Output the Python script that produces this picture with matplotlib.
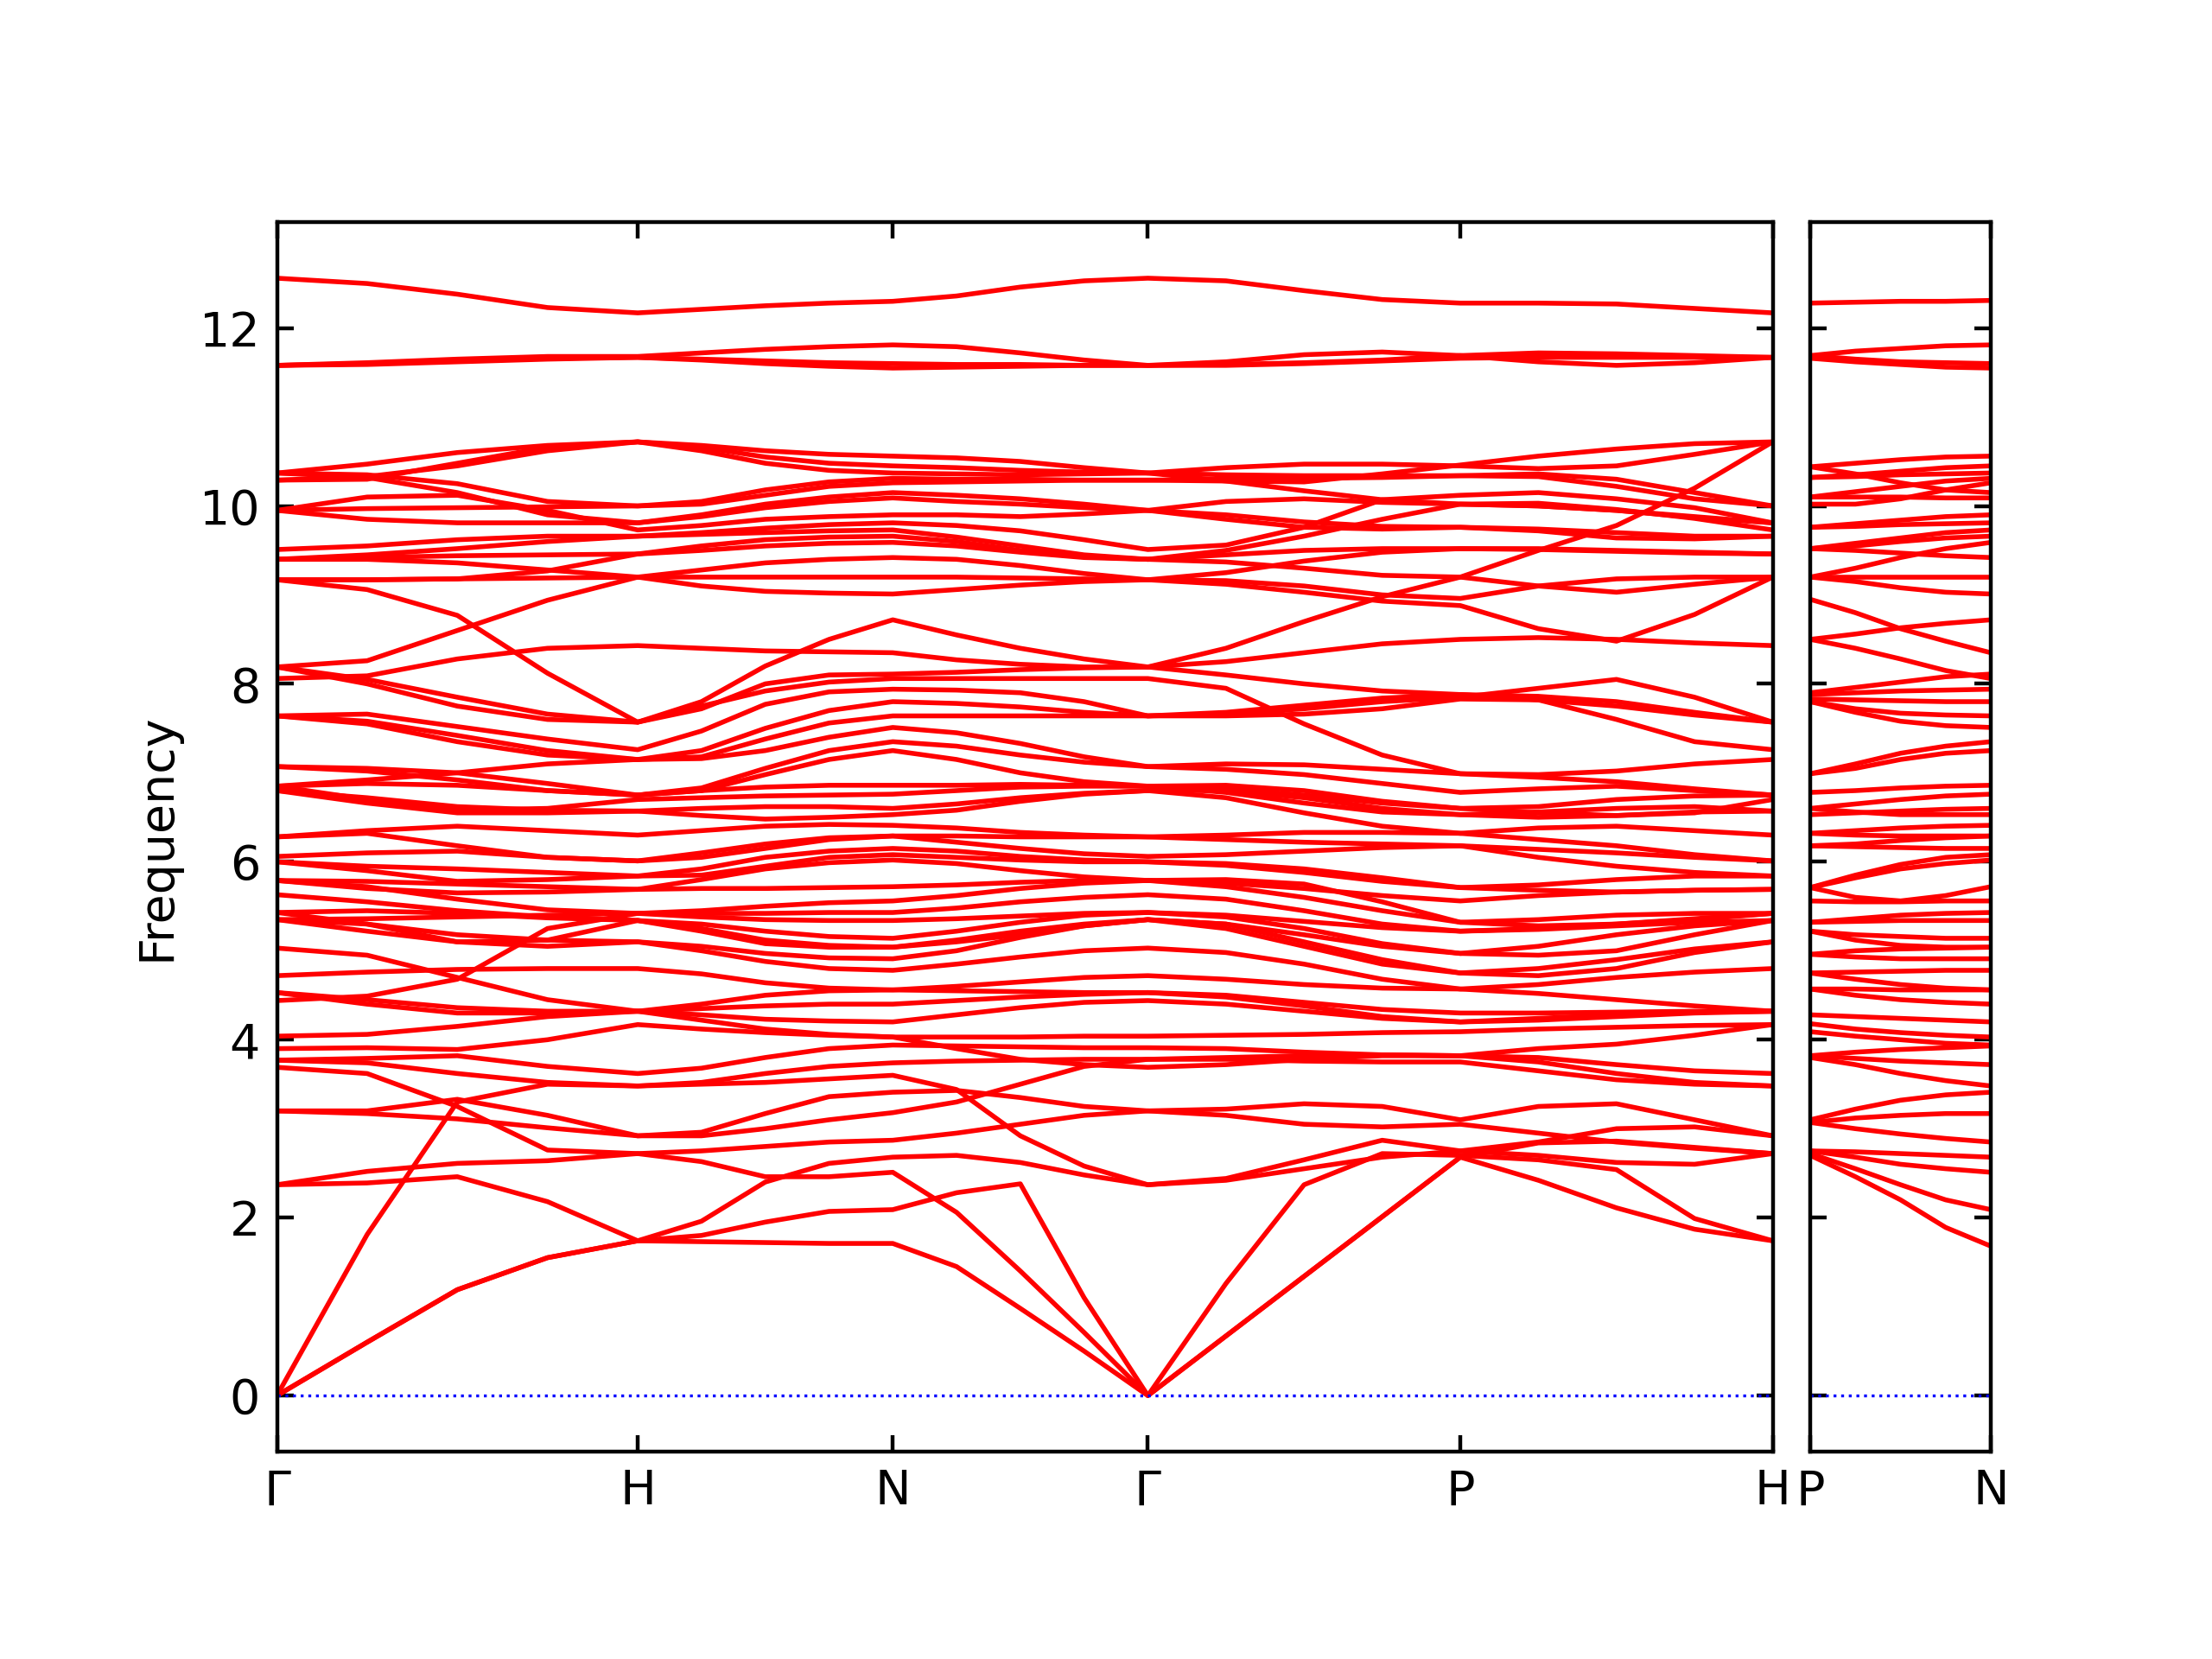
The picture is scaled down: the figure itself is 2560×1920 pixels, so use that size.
import numpy as np
import matplotlib
matplotlib.use("Agg")
import matplotlib.pyplot as plt

# path G-H-N-G-P-H | P-N  (segment lengths in 2pi/a units, bcc)
seg_len = [1.0, 0.7071, 0.7071, 0.8660, 0.8660]
pn_len = 0.5
main_labels = ["Γ", "H", "N", "Γ", "P", "H"]
pn_labels = ["P", "N"]
yticks = [0, 2, 4, 6, 8, 10, 12]

# each band: 5 samples per segment, shared end points
# G . . . H . . . N . . . G . . . P . . . H
top_bands = [
    [12.56, 12.50, 12.38, 12.23, 12.17, 12.21, 12.25, 12.28, 12.30, 12.36, 12.46, 12.53, 12.56, 12.53, 12.42, 12.32, 12.28, 12.28, 12.27, 12.22, 12.17],
    [11.58, 11.61, 11.65, 11.68, 11.68, 11.72, 11.76, 11.79, 11.81, 11.79, 11.72, 11.64, 11.58, 11.62, 11.70, 11.73, 11.69, 11.62, 11.58, 11.61, 11.67],
    [11.58, 11.60, 11.63, 11.66, 11.67, 11.64, 11.60, 11.57, 11.55, 11.56, 11.57, 11.58, 11.58, 11.59, 11.61, 11.64, 11.69, 11.72, 11.71, 11.69, 11.67],
    [11.58, 11.59, 11.62, 11.65, 11.67, 11.65, 11.63, 11.61, 11.60, 11.59, 11.59, 11.58, 11.58, 11.58, 11.60, 11.63, 11.66, 11.67, 11.67, 11.67, 11.67],
]

upper_bands = [
    [10.37, 10.47, 10.60, 10.68, 10.72, 10.68, 10.62, 10.58, 10.56, 10.54, 10.50, 10.43, 10.37, 10.43, 10.47, 10.47, 10.45, 10.42, 10.45, 10.58, 10.72],
    [10.29, 10.30, 10.48, 10.66, 10.72, 10.66, 10.55, 10.48, 10.45, 10.43, 10.40, 10.38, 10.37, 10.35, 10.34, 10.34, 10.34, 10.33, 10.22, 10.08, 10.00],
    [10.37, 10.32, 10.15, 9.90, 9.81, 9.90, 10.02, 10.10, 10.15, 10.12, 10.08, 10.02, 9.95, 10.05, 10.08, 10.04, 10.02, 10.00, 9.95, 9.87, 9.81],
    [10.29, 10.33, 10.45, 10.62, 10.72, 10.62, 10.48, 10.40, 10.37, 10.36, 10.35, 10.36, 10.37, 10.28, 10.17, 10.07, 10.02, 10.00, 9.95, 9.88, 9.81],
    [10.37, 10.35, 10.25, 10.05, 10.00, 10.05, 10.18, 10.27, 10.31, 10.30, 10.30, 10.29, 10.29, 10.28, 10.27, 10.36, 10.46, 10.56, 10.64, 10.70, 10.72],
    [9.95, 10.10, 10.12, 9.95, 9.73, 9.78, 9.85, 9.88, 9.90, 9.90, 9.88, 9.91, 9.95, 9.85, 9.76, 9.74, 9.76, 9.72, 9.64, 9.63, 9.66],
    [9.95, 9.97, 9.98, 9.99, 10.00, 10.02, 10.12, 10.22, 10.26, 10.27, 10.28, 10.29, 10.29, 10.30, 10.31, 10.32, 10.34, 10.36, 10.30, 10.15, 10.00],
    [9.95, 9.85, 9.81, 9.81, 9.81, 9.88, 9.98, 10.05, 10.09, 10.05, 10.02, 9.98, 9.95, 9.90, 9.82, 9.77, 9.76, 9.74, 9.70, 9.66, 9.66],
    [9.51, 9.55, 9.62, 9.66, 9.66, 9.70, 9.75, 9.79, 9.81, 9.78, 9.72, 9.62, 9.51, 9.56, 9.76, 10.07, 10.12, 10.15, 10.08, 9.98, 9.81],
    [9.40, 9.45, 9.52, 9.60, 9.66, 9.68, 9.70, 9.72, 9.73, 9.65, 9.55, 9.45, 9.40, 9.50, 9.66, 9.85, 10.02, 10.03, 9.96, 9.86, 9.73],
    [9.40, 9.40, 9.36, 9.28, 9.20, 9.28, 9.36, 9.40, 9.42, 9.40, 9.33, 9.24, 9.17, 9.25, 9.38, 9.48, 9.52, 9.52, 9.50, 9.48, 9.46],
    [9.40, 9.42, 9.44, 9.45, 9.46, 9.55, 9.62, 9.65, 9.66, 9.60, 9.50, 9.43, 9.40, 9.45, 9.50, 9.52, 9.52, 9.51, 9.49, 9.47, 9.46],
    [9.17, 9.17, 9.18, 9.27, 9.46, 9.50, 9.55, 9.58, 9.59, 9.55, 9.48, 9.42, 9.40, 9.37, 9.30, 9.22, 9.20, 9.10, 9.03, 9.12, 9.20],
    [9.17, 9.06, 8.77, 8.12, 7.57, 7.80, 8.20, 8.50, 8.72, 8.55, 8.40, 8.28, 8.19, 8.40, 8.70, 8.98, 9.20, 9.50, 9.78, 10.20, 10.72],
    [9.17, 9.17, 9.18, 9.19, 9.20, 9.20, 9.20, 9.20, 9.20, 9.20, 9.19, 9.18, 9.17, 9.16, 9.10, 9.00, 8.96, 9.10, 9.18, 9.20, 9.20],
    [8.19, 8.26, 8.60, 8.94, 9.20, 9.10, 9.04, 9.02, 9.01, 9.06, 9.11, 9.15, 9.17, 9.12, 9.03, 8.93, 8.88, 8.62, 8.48, 8.78, 9.20],
    [8.06, 8.09, 8.28, 8.40, 8.43, 8.40, 8.37, 8.36, 8.35, 8.27, 8.22, 8.19, 8.19, 8.25, 8.35, 8.45, 8.50, 8.52, 8.50, 8.46, 8.43],
    [8.19, 8.05, 7.85, 7.66, 7.57, 7.72, 8.00, 8.10, 8.11, 8.13, 8.16, 8.18, 8.19, 8.10, 8.00, 7.92, 7.88, 7.82, 7.75, 7.65, 7.57],
    [8.19, 8.00, 7.75, 7.60, 7.57, 7.75, 7.92, 8.02, 8.06, 8.06, 8.06, 8.06, 8.06, 7.95, 7.55, 7.20, 6.99, 6.98, 7.02, 7.10, 7.15],
]

middle_bands = [
    [7.64, 7.66, 7.52, 7.38, 7.26, 7.47, 7.77, 7.91, 7.94, 7.93, 7.90, 7.80, 7.64, 7.68, 7.76, 7.84, 7.88, 7.86, 7.80, 7.68, 7.57],
    [7.64, 7.58, 7.42, 7.25, 7.15, 7.25, 7.50, 7.70, 7.80, 7.78, 7.74, 7.68, 7.64, 7.64, 7.66, 7.72, 7.83, 7.82, 7.60, 7.35, 7.26],
    [7.64, 7.55, 7.35, 7.20, 7.15, 7.18, 7.38, 7.56, 7.64, 7.64, 7.64, 7.64, 7.64, 7.66, 7.72, 7.80, 7.85, 7.95, 8.05, 7.85, 7.57],
    [7.07, 7.05, 7.00, 6.88, 6.75, 6.83, 7.05, 7.25, 7.35, 7.30, 7.20, 7.12, 7.07, 7.10, 7.09, 7.04, 6.99, 6.95, 6.90, 6.82, 6.75],
    [7.07, 7.02, 6.92, 6.80, 6.75, 6.80, 6.98, 7.15, 7.25, 7.15, 7.00, 6.90, 6.85, 6.82, 6.75, 6.66, 6.60, 6.62, 6.70, 6.74, 6.75],
    [6.85, 6.92, 7.00, 7.10, 7.15, 7.16, 7.25, 7.40, 7.51, 7.45, 7.33, 7.18, 7.07, 7.04, 6.98, 6.88, 6.78, 6.82, 6.85, 6.80, 6.75],
    [6.85, 6.88, 6.86, 6.80, 6.75, 6.80, 6.84, 6.86, 6.86, 6.86, 6.87, 6.86, 6.85, 6.86, 6.80, 6.68, 6.60, 6.55, 6.52, 6.55, 6.70],
    [6.85, 6.70, 6.58, 6.60, 6.70, 6.72, 6.74, 6.75, 6.76, 6.80, 6.84, 6.85, 6.85, 6.78, 6.66, 6.56, 6.53, 6.56, 6.60, 6.62, 6.57],
    [6.80, 6.72, 6.62, 6.58, 6.57, 6.60, 6.62, 6.62, 6.60, 6.65, 6.72, 6.77, 6.80, 6.80, 6.72, 6.60, 6.53, 6.50, 6.52, 6.56, 6.57],
    [6.80, 6.66, 6.55, 6.55, 6.57, 6.52, 6.48, 6.50, 6.53, 6.58, 6.68, 6.76, 6.80, 6.72, 6.55, 6.40, 6.32, 6.38, 6.40, 6.35, 6.30],
    [6.28, 6.35, 6.40, 6.35, 6.30, 6.35, 6.40, 6.42, 6.41, 6.38, 6.33, 6.30, 6.28, 6.30, 6.33, 6.33, 6.32, 6.25, 6.18, 6.08, 6.01],
    [6.28, 6.32, 6.18, 6.05, 6.01, 6.10, 6.20, 6.27, 6.29, 6.29, 6.28, 6.28, 6.28, 6.25, 6.22, 6.20, 6.18, 6.14, 6.10, 6.05, 6.01],
    [6.06, 6.10, 6.12, 6.05, 6.01, 6.05, 6.15, 6.25, 6.29, 6.22, 6.15, 6.09, 6.06, 6.08, 6.12, 6.16, 6.18, 6.05, 5.95, 5.88, 5.84],
    [6.00, 5.95, 5.92, 5.88, 5.84, 5.92, 6.05, 6.12, 6.15, 6.12, 6.06, 6.02, 6.00, 5.96, 5.88, 5.78, 5.71, 5.74, 5.80, 5.84, 5.84],
    [6.00, 5.90, 5.78, 5.80, 5.84, 5.85, 5.95, 6.05, 6.08, 6.05, 6.02, 6.00, 6.00, 5.98, 5.92, 5.82, 5.71, 5.68, 5.66, 5.68, 5.69],
    [5.79, 5.78, 5.75, 5.72, 5.69, 5.80, 5.92, 5.99, 6.02, 5.98, 5.90, 5.83, 5.79, 5.76, 5.70, 5.62, 5.56, 5.62, 5.66, 5.68, 5.69],
    [5.79, 5.70, 5.65, 5.66, 5.69, 5.70, 5.70, 5.71, 5.72, 5.74, 5.77, 5.79, 5.79, 5.72, 5.60, 5.45, 5.32, 5.35, 5.40, 5.42, 5.42],
    [5.79, 5.72, 5.58, 5.46, 5.42, 5.45, 5.50, 5.54, 5.56, 5.62, 5.70, 5.76, 5.79, 5.80, 5.75, 5.55, 5.32, 5.28, 5.30, 5.36, 5.42],
    [5.63, 5.55, 5.45, 5.38, 5.34, 5.30, 5.22, 5.16, 5.14, 5.22, 5.32, 5.40, 5.43, 5.38, 5.25, 5.08, 4.97, 5.05, 5.18, 5.28, 5.34],
    [5.43, 5.45, 5.42, 5.37, 5.34, 5.25, 5.12, 5.06, 5.04, 5.12, 5.22, 5.30, 5.35, 5.30, 5.18, 5.05, 4.97, 4.95, 5.00, 5.18, 5.34],
    [5.43, 5.30, 5.10, 5.12, 5.34, 5.22, 5.08, 5.04, 5.04, 5.10, 5.18, 5.28, 5.35, 5.25, 5.05, 4.85, 4.75, 4.80, 4.90, 5.02, 5.10],
    [5.35, 5.30, 5.18, 5.12, 5.10, 5.05, 4.97, 4.92, 4.91, 5.00, 5.15, 5.28, 5.35, 5.30, 5.10, 4.90, 4.75, 4.72, 4.80, 4.98, 5.10],
    [5.35, 5.22, 5.10, 5.05, 5.10, 5.00, 4.88, 4.80, 4.78, 4.85, 4.93, 5.00, 5.03, 4.98, 4.85, 4.68, 4.57, 4.62, 4.70, 4.76, 4.80],
    [5.35, 5.36, 5.38, 5.40, 5.42, 5.42, 5.42, 5.43, 5.43, 5.48, 5.55, 5.60, 5.63, 5.58, 5.45, 5.30, 5.22, 5.25, 5.30, 5.35, 5.42],
    [5.03, 4.95, 4.70, 4.45, 4.32, 4.40, 4.50, 4.55, 4.56, 4.55, 4.54, 4.53, 4.53, 4.50, 4.42, 4.34, 4.30, 4.30, 4.31, 4.32, 4.32],
    [4.72, 4.76, 4.79, 4.80, 4.80, 4.74, 4.64, 4.58, 4.56, 4.60, 4.65, 4.70, 4.72, 4.68, 4.62, 4.58, 4.57, 4.52, 4.45, 4.38, 4.32],
    [4.53, 4.45, 4.36, 4.32, 4.32, 4.35, 4.38, 4.40, 4.40, 4.44, 4.48, 4.51, 4.53, 4.48, 4.38, 4.26, 4.20, 4.24, 4.28, 4.31, 4.32],
    [4.53, 4.40, 4.30, 4.30, 4.32, 4.28, 4.23, 4.21, 4.20, 4.28, 4.36, 4.42, 4.44, 4.40, 4.32, 4.24, 4.20, 4.22, 4.26, 4.30, 4.32],
    [4.44, 4.49, 4.68, 5.25, 5.42, 5.38, 5.35, 5.34, 5.34, 5.36, 5.39, 5.42, 5.43, 5.40, 5.33, 5.26, 5.22, 5.24, 5.28, 5.32, 5.34],
    [4.04, 4.06, 4.15, 4.26, 4.32, 4.22, 4.12, 4.06, 4.03, 4.03, 4.03, 4.04, 4.04, 4.05, 4.06, 4.08, 4.09, 4.12, 4.14, 4.16, 4.17],
]

low_bands = [
    [3.90, 3.91, 3.89, 4.00, 4.17, 4.12, 4.08, 4.05, 4.03, 3.90, 3.78, 3.72, 3.69, 3.72, 3.78, 3.82, 3.82, 3.90, 3.95, 4.05, 4.17],
    [3.77, 3.79, 3.82, 3.70, 3.62, 3.68, 3.80, 3.90, 3.94, 3.93, 3.92, 3.91, 3.91, 3.90, 3.86, 3.83, 3.82, 3.80, 3.72, 3.65, 3.62],
    [3.77, 3.74, 3.62, 3.52, 3.48, 3.52, 3.62, 3.70, 3.74, 3.76, 3.77, 3.78, 3.78, 3.80, 3.82, 3.83, 3.82, 3.75, 3.62, 3.52, 3.48],
    [3.69, 3.62, 3.25, 2.76, 2.72, 2.63, 2.46, 2.46, 2.51, 2.06, 1.40, 0.71, 0.00, 1.26, 2.37, 2.72, 2.70, 2.65, 2.54, 1.99, 1.74],
    [3.20, 3.20, 3.33, 3.15, 2.92, 2.96, 3.17, 3.36, 3.41, 3.43, 3.35, 3.25, 3.20, 3.22, 3.28, 3.25, 3.10, 3.25, 3.28, 3.10, 2.92],
    [3.20, 3.17, 3.11, 3.01, 2.92, 2.92, 3.00, 3.10, 3.18, 3.30, 3.50, 3.70, 3.78, 3.78, 3.76, 3.75, 3.75, 3.65, 3.55, 3.50, 3.48],
    [0.00, 1.81, 3.30, 3.50, 3.48, 3.50, 3.52, 3.56, 3.60, 3.44, 2.92, 2.58, 2.37, 2.44, 2.65, 2.87, 2.75, 2.70, 2.62, 2.60, 2.72],
    [0.00, 0.60, 1.19, 1.55, 1.74, 1.96, 2.40, 2.61, 2.68, 2.70, 2.62, 2.48, 2.37, 2.42, 2.55, 2.68, 2.75, 2.85, 3.00, 3.02, 2.92],
    [0.00, 0.60, 1.19, 1.55, 1.74, 1.80, 1.95, 2.07, 2.09, 2.28, 2.38, 1.10, 0.00, 0.67, 1.34, 2.01, 2.68, 2.84, 2.86, 2.79, 2.72],
    [2.37, 2.52, 2.61, 2.64, 2.72, 2.75, 2.80, 2.85, 2.87, 2.95, 3.05, 3.15, 3.20, 3.15, 3.05, 3.02, 3.05, 2.95, 2.85, 2.78, 2.72],
    [2.37, 2.39, 2.46, 2.18, 1.74, 1.73, 1.72, 1.71, 1.71, 1.45, 0.98, 0.50, 0.00, 0.67, 1.34, 2.01, 2.68, 2.42, 2.11, 1.87, 1.74],
]

# P . . . N
pn_bands = [
    [12.28, 12.29, 12.30, 12.30, 12.31],
    [11.69, 11.74, 11.77, 11.80, 11.81],
    [11.69, 11.65, 11.62, 11.61, 11.60],
    [11.66, 11.62, 11.59, 11.56, 11.55],
    [10.44, 10.48, 10.52, 10.55, 10.56],
    [10.44, 10.36, 10.26, 10.18, 10.15],
    [10.32, 10.33, 10.35, 10.36, 10.37],
    [10.32, 10.35, 10.39, 10.43, 10.45],
    [10.10, 10.16, 10.22, 10.28, 10.31],
    [10.10, 10.10, 10.10, 10.09, 10.09],
    [10.02, 10.02, 10.08, 10.18, 10.26],
    [9.76, 9.80, 9.84, 9.88, 9.90],
    [9.76, 9.77, 9.79, 9.80, 9.81],
    [9.52, 9.58, 9.64, 9.70, 9.73],
    [9.52, 9.50, 9.47, 9.44, 9.42],
    [9.52, 9.55, 9.60, 9.64, 9.66],
    [9.20, 9.15, 9.08, 9.03, 9.01],
    [9.20, 9.30, 9.42, 9.52, 9.59],
    [9.20, 9.20, 9.20, 9.20, 9.20],
    [8.95, 8.80, 8.62, 8.48, 8.35],
    [8.50, 8.56, 8.63, 8.68, 8.72],
    [8.50, 8.40, 8.28, 8.15, 8.06],
    [7.90, 7.96, 8.02, 8.08, 8.11],
    [7.88, 7.90, 7.92, 7.93, 7.94],
    [7.83, 7.82, 7.81, 7.80, 7.80],
    [7.80, 7.72, 7.67, 7.65, 7.64],
    [7.80, 7.68, 7.58, 7.53, 7.51],
    [6.99, 7.10, 7.22, 7.30, 7.35],
    [6.99, 7.05, 7.15, 7.22, 7.25],
    [6.78, 6.80, 6.83, 6.85, 6.86],
    [6.60, 6.65, 6.70, 6.74, 6.76],
    [6.53, 6.55, 6.57, 6.59, 6.60],
    [6.60, 6.56, 6.53, 6.53, 6.53],
    [6.32, 6.35, 6.38, 6.40, 6.41],
    [6.32, 6.30, 6.29, 6.29, 6.29],
    [6.18, 6.20, 6.24, 6.27, 6.29],
    [6.18, 6.17, 6.16, 6.15, 6.15],
    [5.71, 5.85, 5.97, 6.05, 6.08],
    [5.71, 5.82, 5.92, 5.98, 6.02],
    [5.71, 5.60, 5.56, 5.62, 5.72],
    [5.56, 5.55, 5.55, 5.56, 5.56],
    [5.32, 5.36, 5.40, 5.42, 5.43],
    [5.32, 5.33, 5.34, 5.34, 5.34],
    [5.22, 5.18, 5.16, 5.14, 5.14],
    [5.22, 5.12, 5.06, 5.04, 5.04],
    [4.96, 5.00, 5.02, 5.03, 5.04],
    [4.96, 4.93, 4.91, 4.91, 4.91],
    [4.75, 4.76, 4.77, 4.78, 4.78],
    [4.75, 4.68, 4.62, 4.58, 4.56],
    [4.57, 4.57, 4.56, 4.56, 4.56],
    [4.57, 4.50, 4.45, 4.42, 4.40],
    [4.28, 4.26, 4.24, 4.22, 4.20],
    [4.18, 4.12, 4.08, 4.05, 4.03],
    [4.09, 4.04, 4.00, 3.96, 3.94],
    [3.82, 3.86, 3.89, 3.91, 3.93],
    [3.82, 3.79, 3.76, 3.74, 3.72],
    [3.80, 3.72, 3.62, 3.54, 3.48],
    [3.10, 3.22, 3.32, 3.38, 3.41],
    [3.07, 3.12, 3.15, 3.17, 3.17],
    [3.07, 3.00, 2.94, 2.89, 2.85],
    [2.75, 2.74, 2.72, 2.70, 2.68],
    [2.75, 2.68, 2.60, 2.55, 2.51],
    [2.72, 2.55, 2.37, 2.20, 2.09],
    [2.70, 2.46, 2.20, 1.89, 1.68],
]

# x positions of the samples along the path
kpos = np.concatenate([[0.0], np.cumsum(seg_len)])
x_main = [kpos[0]]
for i in range(len(seg_len)):
    x_main.extend(np.linspace(kpos[i], kpos[i + 1], 5)[1:])
x_main = np.array(x_main)
x_pn = np.linspace(0, pn_len, 5)

ylim = (-0.63, 13.19)

fig = plt.figure(figsize=(6.4, 4.8), dpi=400)
ax1 = fig.add_axes([0.1252, 0.125, 0.6762, 0.7411])
ax2 = fig.add_axes([0.8184, 0.125, 0.0816, 0.7411])

for band in top_bands + upper_bands + middle_bands + low_bands:
    ax1.plot(x_main, band, color="r", lw=1.0, solid_joinstyle="round")
for band in pn_bands:
    ax2.plot(x_pn, band, color="r", lw=1.0, solid_joinstyle="round")

for ax in (ax1, ax2):
    ax.axhline(0, color="b", ls=":", lw=0.6)
    ax.set_ylim(*ylim)
    ax.set_yticks(yticks)
    ax.tick_params(direction="in", top=True, right=True)

ax1.set_xlim(kpos[0], kpos[-1])
ax1.set_xticks(kpos)
ax1.set_xticklabels(main_labels)
ax1.set_ylabel("Frequency")

ax2.set_xlim(0, pn_len)
ax2.set_xticks([0, pn_len])
ax2.set_xticklabels(pn_labels)
ax2.tick_params(labelleft=False)

fig.savefig("out.png", dpi=400)
